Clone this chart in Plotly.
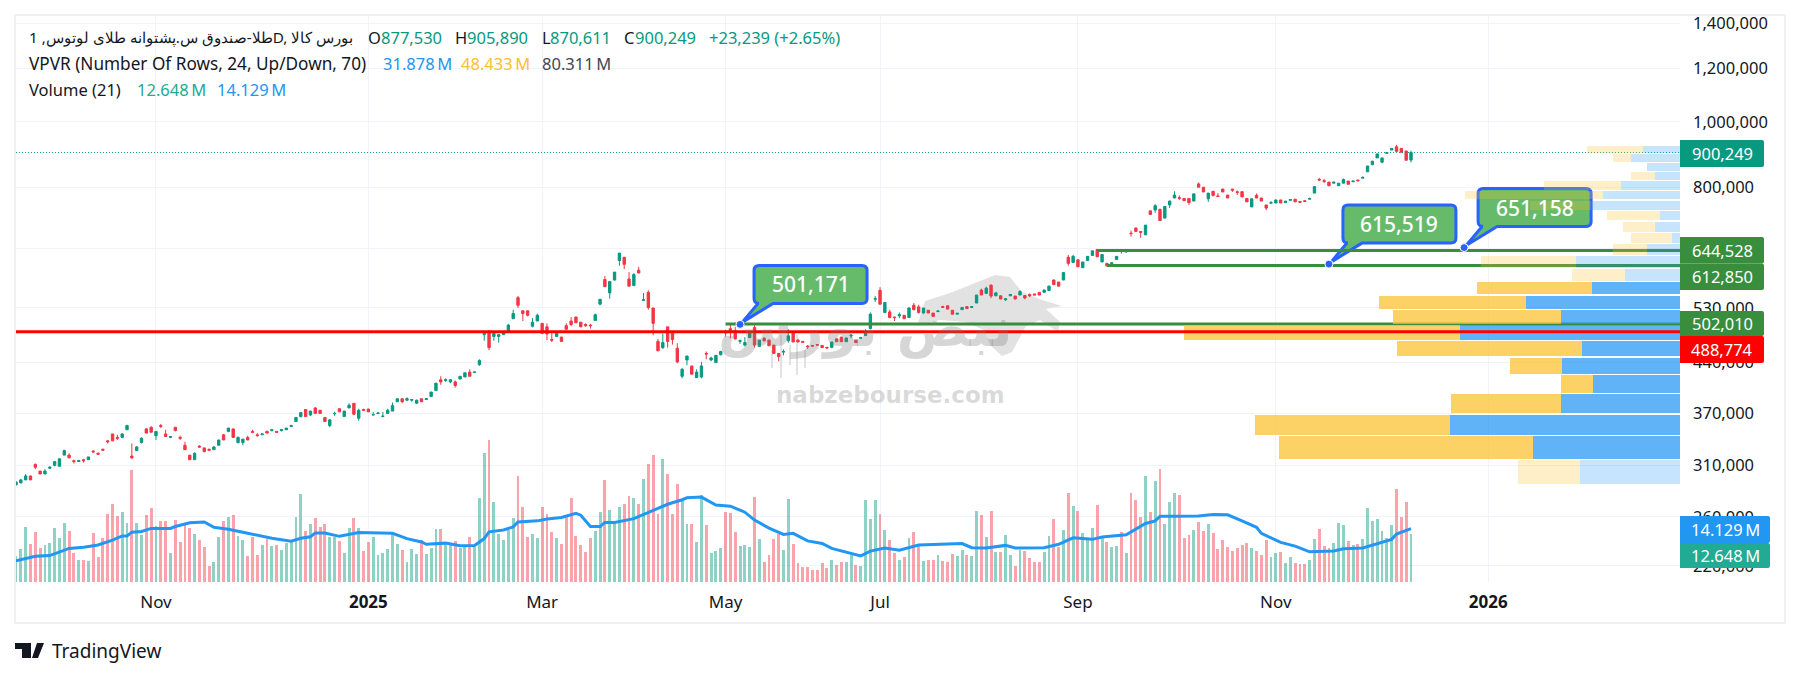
import numpy as np
import plotly.graph_objects as go

# prices in thousands, one value per daily bar
OPEN = [
    290,292,295,299,311,304,301,307,310,309,
    321,321,315,314,316,316,325.5,323,327.5,337,
    345,341,341,350,320,326,335,351,353,343,
    355,345,341,353,341,332,321,316,331,329,
    327.5,327,332,344,348,351,335,335,341,348,
    344,344,348,349,348,349,350,354,360,366,
    375,368,377,374,365,355,369.5,376,366,377,
    383,364,375,375.5,368,370,366,370,373,385,
    389,387,387,383,389,388,392,400,415,414,
    412,412,416,419,426,425.5,437,484,490,481,
    481,484,489,511,549,525,525,498,507,503,
    497,476,481,480,499,507,514,505,501,500,
    508,537,584,558,583,623,630,585,572,603,
    544,559,530,473,463,497,488,462,420,444,
    435,418,419,454,444,440,452,489,494,491,
    473,467,479,496,465,478,475,467,454,456,
    474,488,475,473,465.5,466.5,468,466.5,463.5,463.5,
    477,480,472.5,482,475,478,482.5,494,546,563,
    522,523,514,516,517,513,535,532,521,526,
    521,523.5,532.5,534,526,519,527,532.5,531,539,
    563.5,557,573,552.5,552.5,545,552.5,552,554,553,
    555,556,559,559,562.5,583,579,583,630,619,
    624.5,608,623,634,647,620,617,616,625,644,
    642,684,696,688,680,738,740,742,720,753,
    771,772,770,770,763,809,800,769,789,776.5,
    795,779,795,787.5,788,770,748,778,771,753,
    757.5,758,766,759,765,768,762,764,768,784,
    821.5,818,814,811,804,811,817,815,820,825,
    843,864,884,871,898,908,918,913,905,877.53,
]
HIGH = [
    293,296,301,299,312,304,306,309,314,317,
    327,323,316,316,317,319,326,324,328,338,
    345,344,346,356,334,331,341,352,354,348,
    357,350,342,353,343,336,321,324,332,329,
    328,331,338,345,352,351,342,339,343,350,
    346,345,349,350,348,351,352,356,365,372,
    375,373,378,374,365,363,372,376,373,383,
    383,376,376,376,372,372,372,376,384,389,
    389,391,388,388,389,390,398,411,420,417,
    416,414,420,425,430,427,445,488,491,490,
    484,489,502,527,552,525,525,512,520,503,
    503,487,488,480,503,514,514,505,503,502,
    520,546,591,580,599,639,630,599,597,610,
    558,563,530,477,486,497,488,470,432,450,
    435,430,441,457,449,451,458,492,502,497,
    476,480,487,503,475,480,476,467,454,460,
    493,488,477,473,467,467,468,467,464,472,
    478,480,479,485,475,479,493,522,552,569,
    541,527,514,522,517,531,539,536,530,526,
    521,526,534,534,526,520.5,531,532.5,533,554,
    566,570,574,560,553,547,556,552,563,554,
    557,556,559,564,572,584,579,599,635,635,
    625,620,632,644,648,636,618,620,632,647,
    643,690,697,688,703,738,755,742,750,764,
    789,778,771,770,782,813,800,784,789,784,
    795,779,795,791,788,771,769,783,771,753,
    763,766,766,763,768,768,762,765,772,803,
    826,823,814,814,811,824,817,817,820,830,
    860,875,897,884,902,913,924,914,906,905.89,
]
LOW = [
    290,292,295,295,306,301,301,306,309,309,
    321,318,312,314,313,316,324,322,326,334,
    337,338,340,350,317,326,334,346,347,338,
    352,342,340,348,338,327,316,316,329,324,
    326,327,332,338,347,341,334,332,338,346,
    342,344,346,348,346,348,350,354,360,365,
    366,367,370,370,360,353,367,372,366,377,
    368,361,374,372,368,369,366,370,373,385,
    383,387,385,382,385,388,392,400,408,412,
    410,404,416,419,420,425,435,474,459,474,
    471,484,489,511,530,507,515,496,507,485,
    475,472,481,473,492,498,504,497,497,494,
    508,535,570,547,582,612,605,571,572,597,
    543,527,483,458,461,463,468,439,417,436,
    423,418,417,445,442,440,451,481,478,476,
    469,465,479,463,465,473,466,454,442,451,
    471,472,472,471,461,464,467,463,461.5,462,
    472.5,472,472,478,471,478,482,493,541,536,
    522,513,507,512,511,513,526,520,520,521,
    515,523,530,528,519,519,527,529,531,539,
    554,556,548,552,546,543,552,546,554,546,
    550,554,554,559,562,574,571,583,612,619,
    610,608,623,634,631,620,611,616,625,638,
    639,676,688,673,680,729,733,714,720,745,
    771,766,764,753,763,800,787,761,775,775,
    787,771,787,779,774,761,748,771,763,740,
    757.5,758,758,759,765,761,760,762,768,784,
    817,811,804,811,804,811,808,815,815,825,
    843,862,884,868,898,908,901,901,877,870.611,
]
CLOSE = [
    293,295,299,295,308,301,304,308,314,317,
    326,318,314,315,315,319,324.5,322,326.5,336,
    337,340,345,355,318,330,340,346,347,348,
    354,342,342,349,340,327,316,323,330,325,
    326.5,330,338,338,352,341,341,339,338,347,
    343,345,346,350,347,350,352,355,365,371,
    366,373,370,370,360,362,370,372,373,380.5,
    369,374,374,372,368.5,370.5,366.5,374,380,389,
    385,389,388,387,385,389,398,410,412,415,
    415,407,420,425,420,426,443,486,463,486,
    484,487,500,520,535,520,517,505,517,486,
    485,475,486,473,493,501,504,497,499,499,
    518,546,570,580,599,639,615,571,594,597,
    545,531,503,458,471,473,476,441,430,450,
    423,426,435,453,447,451,457,487,488,477,
    474,471,487,467,475,474,466,454,449,457,
    482,472,472,471.5,464.5,465.5,467,463,462.5,472,
    472.5,472.5,478.5,483,471,479,489,519,547,537,
    540,513,513,518,511,530,527,522,530,521,
    515,524.5,531,528,519,520.5,531,529,532.5,554,
    554,567,552,558,546.5,547,555,546.5,560.5,548.5,
    552.5,554,554,563.5,571,574,571,598,617,632,
    610,620,632,644,631,636,612,618,632,642.5,
    643,683,688,686,703,729,751,714,749,763,
    779,770.5,764,759,782,800,787,784,778,775,
    787,771,792,786,774,761,769,771,763,745,
    759,766,758,763,767,761,760,762,769.5,801.5,
    820,816,804,814,811,821,808,817,818,827,
    860,874,896,884,900,913,904,901,877.01,900.249,
]
# volume in millions
VOLUME = [
    6.9,8.7,14.6,10.1,13.2,9.0,9.8,10.3,14.3,11.7,
    15.6,13.5,7.7,5.8,5.8,5.6,13.0,6.6,11.7,18.0,
    20.7,17.5,18.5,15.6,29.7,15.6,12.5,17.7,19.6,14.8,
    16.2,16.2,7.7,16.4,10.6,15.1,14.3,12.7,11.1,9.3,
    4.2,5.3,11.9,16.2,17.2,17.7,12.2,11.1,6.9,11.9,
    7.2,9.8,11.4,9.5,9.8,8.6,10.3,10.8,17.2,23.3,
    13.5,15.3,17.0,14.7,15.5,11.8,11.8,10.8,7.6,14.2,
    16.9,14.2,8.1,10.5,11.8,7.1,7.6,8.7,12.6,10.2,
    8.4,5.2,8.7,7.3,11.0,7.3,8.9,14.0,14.0,10.2,
    9.7,10.8,8.9,9.4,11.8,9.3,22.2,34.1,37.5,21.1,
    12.6,11.0,13.7,16.9,28.0,19.8,11.8,12.6,11.6,20.0,
    17.9,13.2,11.6,10.0,17.1,22.2,12.1,9.7,7.9,11.6,
    13.4,18.5,26.9,19.0,15.8,20.0,20.6,22.7,22.2,20.6,
    27.2,31.2,33.6,17.9,32.5,28.5,17.9,26.1,21.6,15.3,
    15.3,10.5,23.0,15.1,7.7,8.2,9.0,18.5,18.3,13.2,
    9.5,9.8,9.3,22.5,11.4,5.3,7.2,11.4,12.7,8.5,
    22.0,10.1,5.0,4.0,4.0,3.2,3.2,5.0,3.7,5.8,
    4.5,5.3,5.3,7.2,4.5,4.2,21.7,16.7,21.7,18.0,
    13.8,11.1,7.7,5.8,6.6,11.7,13.2,10.1,5.6,5.8,
    5.8,7.2,5.6,5.3,7.4,6.9,8.5,7.2,6.9,18.8,
    17.7,11.9,18.8,7.9,7.9,12.5,7.2,4.2,8.5,8.2,
    6.4,5.3,5.3,7.9,12.2,16.7,9.3,13.8,23.6,20.1,
    18.8,13.0,11.1,14.3,20.4,11.7,10.6,9.3,9.5,13.2,
    7.7,23.6,21.7,17.2,28.1,18.5,26.8,29.9,15.4,21.2,
    23.6,23.0,11.7,12.5,13.8,15.9,13.5,15.4,13.0,8.7,
    11.1,9.3,8.2,9.0,9.8,10.3,9.0,8.2,7.2,11.1,
    6.6,7.7,7.9,5.0,6.6,5.0,4.8,4.8,5.8,11.4,
    14.0,9.5,9.0,10.3,15.6,15.1,10.9,9.8,10.1,11.4,
    19.6,16.2,16.7,13.5,11.7,15.1,24.6,17.2,21.2,12.648,
]
# volume MA read at these bars
MA_BARS = [0,2,4,7,9,11,14,17,20,22,23,24,26,28,32,33,36,39,41,44,47,50,53,57,59,61,62,64,67,71,78,81,84,85,89,92,95,97,98,101,103,104,108,110,113,116,117,119,121,122,124,128,132,135,138,139,142,145,148,151,153,156,159,161,164,167,169,172,175,177,180,183,187,196,198,201,205,207,213,216,219,223,225,230,232,234,236,237,240,245,248,251,254,257,258,262,265,268,273,275,279,282,285,286,289]
MA_VALUES = [5.6,6.2,6.8,7.0,7.9,8.9,9.2,9.8,11.1,12.2,12.2,13.2,13.4,14.2,14.2,14.7,15.7,15.9,14.5,14.0,13.2,12.3,11.6,10.8,11.6,12.0,13.0,13.0,12.1,13.1,12.9,11.5,10.6,10.0,10.3,9.6,9.7,11.5,13.3,13.8,14.6,15.9,16.2,16.7,17.1,18.2,17.7,14.7,14.7,15.8,15.8,16.8,19.0,20.6,21.8,22.3,22.5,20.4,20.1,18.5,16.4,14.3,12.6,12.9,10.9,10.2,8.9,7.9,6.9,8.2,9.0,8.4,9.8,10.2,9.1,9.0,9.7,9.0,9.1,10.0,11.7,11.3,11.9,12.5,14.0,15.5,16.2,17.4,17.4,17.5,17.9,17.8,16.2,14.5,12.9,10.5,9.5,8.0,8.2,8.8,9.0,10.2,11.3,12.7,14.13]

# volume profile rows, top row first, millions
VP_UP = [31.878,42.5,28.6,21.7,51.2,66.8,77.3,17.4,21.7,6.9,28.6,90,47.7,76,133.7,103.3,191,85,102.4,75.5,103.3,199.6,128,86.8]
VP_DOWN = [48.433,15.6,0,20.8,66.8,119.8,52.9,46,27.8,35.6,29.5,82.5,46,100,127.6,145.8,239.6,160.6,45.1,27.8,95.5,169.3,220.5,53.8]
VP_LOW = 290000
VP_HIGH = 924000
VALUE_AREA_ROWS = range(13, 23)

Y_TICKS = [1400000, 1200000, 1000000, 800000, 650000, 530000, 440000, 370000, 310000, 260000, 220000]
X_TICK_BARS = [29, 73, 109, 147, 179, 220, 261, 305]
X_TICK_LABELS = ["Nov", "<b>2025</b>", "Mar", "May", "Jul", "Sep", "Nov", "<b>2026</b>"]

LAST_PRICE = 900249
GREEN_LEVELS = [644528, 612850, 502010]
GREEN_STARTS = [224, 226, 147]
RED_LEVEL = 488774
CALLOUT_VALUES = [501171, 615519, 651158]
CALLOUT_BARS = [150, 272, 300]

UP = "#089981"
DOWN = "#F23645"
INK = "#131722"
BLUE = "#2196f3"
GRID = "#f0f3fa"
FONT = "Noto Sans"

W, H = 1800, 677
L, R, T, B = 16, 1680, 16, 582
BAR_PX = 4.827
Y_REF, Y_REF_PX, PX_PER_LN = 1400000, 23, 293.4
VOL_PX = 0.265        # millions per pixel, volume pane
VP_PX = 0.868         # millions per pixel, profile


def price_at(py):
    return Y_REF * np.exp(-(py - Y_REF_PX) / PX_PER_LN)


def y_px(price):
    return Y_REF_PX + PX_PER_LN * np.log(Y_REF / price)


def x_px(bar):
    return L + BAR_PX * bar


def fx(px):
    return (px - L) / (R - L)


def fy(py):
    return 1 - (py - T) / (B - T)


def data_path(cmds):
    # cmds in screen pixels -> path in axis units, so it can sit under the traces
    out = []
    for c in cmds:
        pts = " ".join(f"{(c[i] - L) / BAR_PX:.3f},{price_at(c[i + 1]):.1f}" for i in range(1, len(c), 2))
        out.append(f"{c[0]}{pts}")
    return " ".join(out) + " Z"


def paper_path(cmds):
    out = []
    for c in cmds:
        pts = " ".join(f"{fx(c[i]):.5f},{fy(c[i + 1]):.5f}" for i in range(1, len(c), 2))
        out.append(f"{c[0]}{pts}")
    return " ".join(out) + " Z"


def label(text, px, py, color=INK, size=16.5, anchor="left", weight="normal", family=FONT):
    fig.add_annotation(text=text, x=fx(px), y=fy(py), xref="paper", yref="paper", showarrow=False,
                       xanchor=anchor, yanchor="middle",
                       font=dict(family=family, size=size, color=color, weight=weight))


fig = go.Figure()

up_bar = [c >= o for o, c in zip(OPEN, CLOSE)]
bars = list(range(len(OPEN)))

fig.add_trace(go.Bar(
    x=bars, y=VOLUME, width=0.6, yaxis="y2",
    marker=dict(color=["rgba(8,153,129,0.45)" if u else "rgba(242,54,69,0.45)" for u in up_bar], line_width=0),
))
fig.add_trace(go.Scatter(x=MA_BARS, y=MA_VALUES, yaxis="y2", mode="lines", line=dict(color=BLUE, width=3)))

fig.add_trace(go.Candlestick(
    x=bars,
    open=[v * 1000 for v in OPEN],
    high=[v * 1000 for v in HIGH],
    low=[v * 1000 for v in LOW],
    close=[v * 1000 for v in CLOSE],
    increasing=dict(line=dict(color=UP, width=1), fillcolor=UP),
    decreasing=dict(line=dict(color=DOWN, width=1), fillcolor=DOWN),
))

x_end = (R - L) / BAR_PX
fig.add_trace(go.Scatter(x=[0, x_end], y=[LAST_PRICE, LAST_PRICE], mode="lines",
                         line=dict(color=UP, width=1, dash="1px,2px")))
for level, start in zip(GREEN_LEVELS, GREEN_STARTS):
    fig.add_trace(go.Scatter(x=[start, x_end], y=[level, level], mode="lines",
                             line=dict(color="#388e3c", width=3)))

# volume profile, rows equal in price
edges = np.linspace(VP_HIGH, VP_LOW, len(VP_UP) + 1)
row_mid = (edges[:-1] + edges[1:]) / 2
row_h = (edges[:-1] - edges[1:]) - row_mid * (1.3 / PX_PER_LN)
for vals, rgb in ((VP_UP, "33,150,243"), (VP_DOWN, "251,192,45")):
    fig.add_trace(go.Bar(
        x=vals, y=row_mid, width=row_h, orientation="h", xaxis="x2",
        marker=dict(color=[f"rgba({rgb},{0.72 if i in VALUE_AREA_ROWS else 0.26})" for i in range(len(vals))],
                    line_width=0),
    ))

fig.add_trace(go.Scatter(x=CALLOUT_BARS, y=CALLOUT_VALUES, mode="markers",
                         marker=dict(color="#2962ff", size=8, line=dict(color="white", width=1))))

shapes = []

# watermark, sits under the candles
bull = [("M", 917, 326), ("L", 925, 301), ("L", 950, 293), ("L", 975, 283), ("L", 995, 275), ("L", 1010, 277),
        ("L", 1022, 292), ("L", 1042, 300), ("L", 1062, 306), ("L", 1046, 309), ("L", 1060, 322), ("L", 1058, 332),
        ("L", 1040, 320), ("L", 1026, 326), ("L", 1012, 352), ("L", 1002, 356), ("L", 990, 345), ("L", 984, 330),
        ("L", 965, 322), ("L", 940, 320)]
shapes.append(dict(type="path", path=data_path(bull), xref="x", yref="y", layer="between",
                   fillcolor="#e2e2e2", line_width=0))
for wx, top, bot in [(772, 350, 368), (781, 335, 378), (790, 345, 365), (797, 335, 375), (805, 350, 368)]:
    shapes.append(dict(type="path", path=data_path([("M", wx - 1, top), ("L", wx + 1, top), ("L", wx + 1, bot), ("L", wx - 1, bot)]),
                       xref="x", yref="y", layer="between", fillcolor="#e2e2e2", line_width=0))

# callouts, box offsets from their anchor
for value, bar in zip(CALLOUT_VALUES, CALLOUT_BARS):
    ax, ay = x_px(bar), y_px(value)
    x0, x1, y0, y1, r = ax + 14, ax + 127, ay - 59, ay - 21, 5
    cmds = [("M", x0 + r, y0), ("L", x1 - r, y0), ("Q", x1, y0, x1, y0 + r), ("L", x1, y1 - r), ("Q", x1, y1, x1 - r, y1),
            ("L", ax + 33, y1), ("L", ax + 2, ay - 2), ("L", ax + 18, y1), ("L", x0 + r, y1), ("Q", x0, y1, x0, y1 - r),
            ("L", x0, y0 + r), ("Q", x0, y0, x0 + r, y0)]
    shapes.append(dict(type="path", path=data_path(cmds), xref="x", yref="y", layer="between",
                       fillcolor="#66bb6a", line=dict(color="#2962ff", width=3)))

shapes.append(dict(type="line", xref="paper", x0=0, x1=1, yref="y", y0=RED_LEVEL, y1=RED_LEVEL,
                   line=dict(color="#ff0000", width=3), layer="above"))

# frame around the widget
shapes.append(dict(type="rect", xref="paper", yref="paper", x0=fx(15), x1=fx(1785), y0=fy(15), y1=fy(623),
                   line=dict(color="#eef0f6", width=2), layer="above"))

# price and volume tags on the axis
tags = [
    (f"{LAST_PRICE:,}", 140, 167, UP, 1764),
    ("644,528", 237, 263.5, "#388e3c", 1764),
    ("612,850", 263.5, 290, "#388e3c", 1764),
    ("502,010", 311, 336, "#388e3c", 1764),
    ("488,774", 336, 363, "#ff0000", 1764),
    ("14.129\u2009M", 516, 543, BLUE, 1770),
    ("12.648\u2009M", 543, 568, "#22ab94", 1770),
]
for text, top, bot, color, right in tags:
    rr = 2
    cmds = [("M", R, top), ("L", right - rr, top), ("Q", right, top, right, top + rr), ("L", right, bot - rr),
            ("Q", right, bot, right - rr, bot), ("L", R, bot)]
    shapes.append(dict(type="path", path=paper_path(cmds), xref="paper", yref="paper",
                       fillcolor=color, line_width=0, layer="above"))

# TradingView mark
logo = [("M", 15, 643), ("L", 31, 643), ("L", 31, 658), ("L", 22, 658), ("L", 22, 649), ("L", 15, 649)]
logo_v = [("M", 38, 658), ("L", 44, 643), ("L", 37, 643), ("L", 32, 658)]
for part in (logo, logo_v):
    shapes.append(dict(type="path", path=paper_path(part), xref="paper", yref="paper",
                       fillcolor=INK, line_width=0, layer="above"))

fig.update_layout(
    width=W, height=H, autosize=False,
    margin=dict(l=L, r=W - R, t=T, b=H - B, pad=0),
    paper_bgcolor="white", plot_bgcolor="white",
    showlegend=False, barmode="stack", hovermode=False,
    shapes=shapes,
    xaxis=dict(range=[0, x_end], tickvals=X_TICK_BARS, ticktext=X_TICK_LABELS, showgrid=True, gridcolor=GRID,
               gridwidth=1, zeroline=False, showline=False, ticks="", ticklabelstandoff=8,
               tickfont=dict(family=FONT, size=17, color=INK), rangeslider=dict(visible=False), tickangle=0),
    yaxis=dict(type="log", range=[np.log10(price_at(B)), np.log10(price_at(T))], side="right",
               tickvals=Y_TICKS, ticktext=[f"{v:,}" for v in Y_TICKS], showgrid=True, gridcolor=GRID,
               zeroline=False, showline=False, ticks="", ticklabelstandoff=12,
               tickfont=dict(family=FONT, size=16.5, color=INK)),
    yaxis2=dict(overlaying="y", range=[0, (B - T) * VOL_PX], visible=False, anchor="x"),
    xaxis2=dict(overlaying="x", range=[(R - L) * VP_PX, 0], visible=False, anchor="y"),
)

# header lines
label("طلا-صندوق س.پشتوانه طلای لوتوس, 1D, بورس کالا", 27, 37, INK, 15.3)
for text, px, color in [("O", 366, INK), ("877,530", 379, UP), ("H", 453, INK), ("905,890", 465, UP),
                        ("L", 540, INK), ("870,611", 548, UP), ("C", 622, INK), ("900,249", 633, UP),
                        ("+23,239 (+2.65%)", 707, UP)]:
    label(text, px, 37, color)
label("VPVR (Number Of Rows, 24, Up/Down, 70)", 27, 63, INK, 17.2)
for text, px, color in [("31.878\u2009M", 381, BLUE), ("48.433\u2009M", 459, "#fbc02d"), ("80.311\u2009M", 540, "#434651")]:
    label(text, px, 63, color)
label("Volume (21)", 27, 89)
for text, px, color in [("12.648\u2009M", 135, "#22ab94"), ("14.129\u2009M", 215, BLUE)]:
    label(text, px, 89, color)

for value, bar in zip(CALLOUT_VALUES, CALLOUT_BARS):
    label(f"{value:,}", x_px(bar) + 70.5, y_px(value) - 40, "white", 21, "center", 500)
for text, top, bot, color, right in tags:
    label(text, (R + right) / 2, (top + bot) / 2, "white", 16.5, "center")

label("نبض بورس", 865, 328, "rgba(120,120,120,0.30)", 54, "center", "bold", "DejaVu Sans")
label("nabzebourse.com", 890, 395, "rgba(120,120,120,0.28)", 23, "center", "bold", "DejaVu Sans")
label("TradingView", 50, 651, INK, 19)

fig.write_html("out.html", post_script="document.body.style.margin='0';", config={"displayModeBar": False})
